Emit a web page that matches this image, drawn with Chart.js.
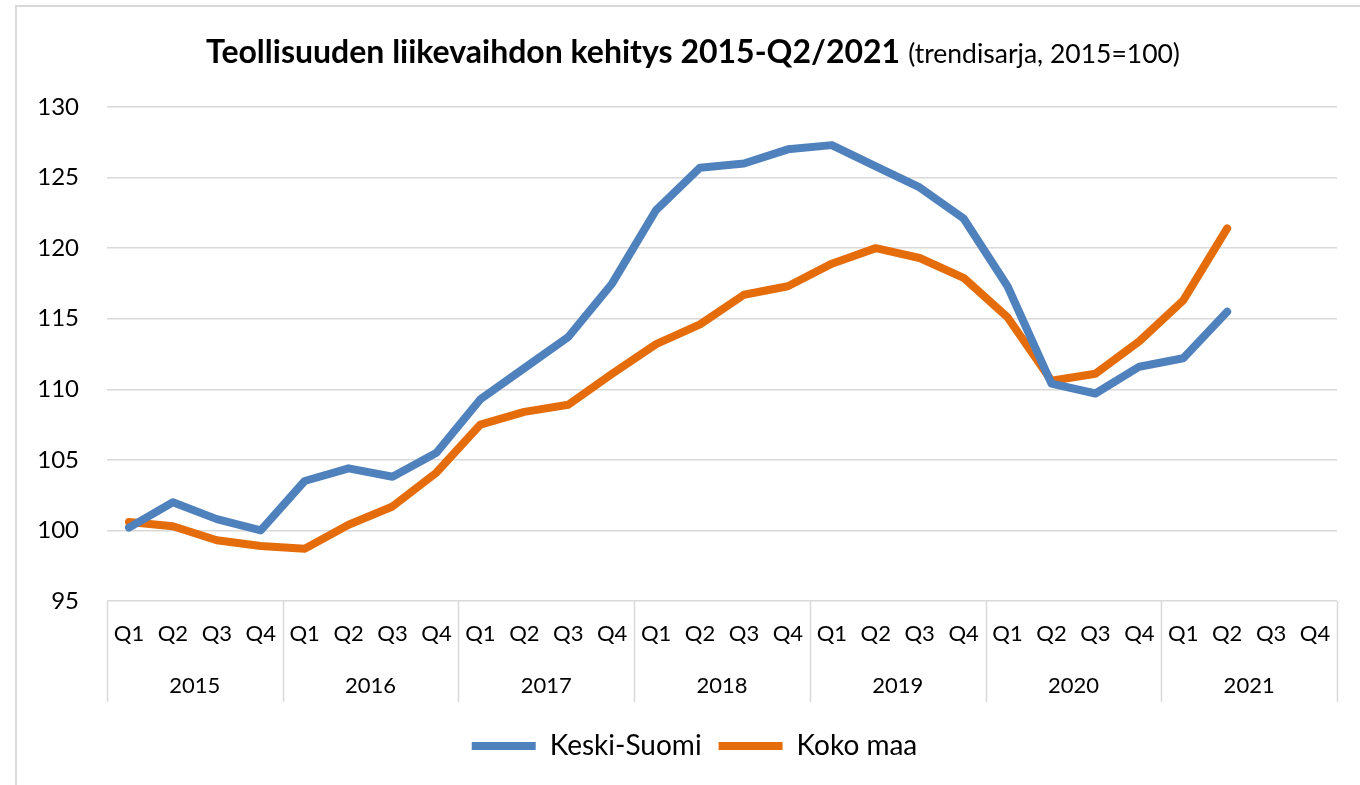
<!DOCTYPE html>
<html><head><meta charset="utf-8">
<script src="https://cdn.jsdelivr.net/npm/chart.js@4.4.1/dist/chart.umd.min.js"></script>
<style>html,body{margin:0;padding:0;background:#fff;overflow:hidden}</style>
</head><body>
<canvas id="c" width="1360" height="785"></canvas>
<script>
const quarters = ['Q1','Q2','Q3','Q4','Q1','Q2','Q3','Q4','Q1','Q2','Q3','Q4','Q1','Q2','Q3','Q4','Q1','Q2','Q3','Q4','Q1','Q2','Q3','Q4','Q1','Q2','Q3','Q4'];
const years = ['2015','2016','2017','2018','2019','2020','2021'];
const keskiSuomi = [100.2,102.0,100.8,100.0, 103.5,104.4,103.8,105.5, 109.3,111.5,113.7,117.5, 122.7,125.7,126.0,127.0, 127.3,125.8,124.3,122.1, 117.3,110.4,109.7,111.6, 112.2,115.5,null,null];
const kokoMaa = [100.6,100.3,99.3,98.9, 98.7,100.4,101.7,104.1, 107.5,108.4,108.9,111.1, 113.2,114.6,116.7,117.3, 118.9,120.0,119.3,117.9, 115.1,110.6,111.1,113.4, 116.3,121.4,null,null];
const seriesNames = ['Keski-Suomi','Koko maa'];
const titleBold = 'Teollisuuden liikevaihdon kehitys 2015-Q2/2021';
const titleNormal = '(trendisarja, 2015=100)';
const yMin = 95, yMax = 130, yStep = 5;

const FONT = 'Lato';
const GRID = '#d9d9d9';

const decor = {
  id: 'decor',
  afterLayout(chart) {
    const l = chart.legend;
    if (l) { l.left += 11; l.right += 11; }
  },
  beforeDraw(chart) {
    const ctx = chart.ctx;
    ctx.save();
    ctx.fillStyle = '#fff';
    ctx.fillRect(0, 0, chart.width, chart.height);
    ctx.strokeStyle = GRID;
    ctx.lineWidth = 2;
    ctx.strokeRect(16, 6, chart.width + 50, chart.height + 50);
    ctx.restore();
  },
  afterDraw(chart) {
    const ctx = chart.ctx;
    const xs = chart.scales.x;
    const area = chart.chartArea;
    const step = xs.getPixelForValue(1) - xs.getPixelForValue(0);
    ctx.save();
    ctx.strokeStyle = GRID;
    ctx.lineWidth = 1.5;
    for (let k = 0; k <= years.length; k++) {
      const px = Math.round(xs.getPixelForValue(k * 4) - step / 2) + 0.5;
      ctx.beginPath();
      ctx.moveTo(px, area.bottom);
      ctx.lineTo(px, area.bottom + 101);
      ctx.stroke();
    }
    ctx.fillStyle = '#000';
    ctx.font = '22px ' + FONT;
    ctx.textAlign = 'center';
    ctx.textBaseline = 'middle';
    years.forEach((y, k) => {
      const cx = (xs.getPixelForValue(k * 4) + xs.getPixelForValue(k * 4 + 3)) / 2;
      ctx.fillText(y, cx, area.bottom + 85);
    });
    ctx.textAlign = 'left';
    ctx.font = 'bold 32px ' + FONT;
    const wb = ctx.measureText(titleBold).width;
    ctx.font = '26.5px ' + FONT;
    const wn = ctx.measureText(titleNormal).width;
    const gap = 8;
    const start = 693 - (wb + gap + wn) / 2;
    ctx.textBaseline = 'alphabetic';
    ctx.font = 'bold 32px ' + FONT;
    ctx.fillText(titleBold, start, 63);
    ctx.font = '26.5px ' + FONT;
    ctx.fillText(titleNormal, start + wb + gap, 63);
    ctx.restore();
  }
};

function build() {
  new Chart(document.getElementById('c'), {
    type: 'line',
    data: {
      labels: quarters,
      datasets: [
        { label: seriesNames[0], data: keskiSuomi, borderColor: '#4f81bd', backgroundColor: '#4f81bd',
          borderWidth: 8, pointRadius: 0, borderCapStyle: 'round', borderJoinStyle: 'round', tension: 0 },
        { label: seriesNames[1], data: kokoMaa, borderColor: '#e46c0a', backgroundColor: '#e46c0a',
          borderWidth: 8, pointRadius: 0, borderCapStyle: 'round', borderJoinStyle: 'round', tension: 0 }
      ]
    },
    options: {
      responsive: false,
      animation: false,
      devicePixelRatio: 1,
      layout: { padding: { left: 30, right: 23, top: 107, bottom: 15 } },
      plugins: {
        title: { display: false },
        tooltip: { enabled: false },
        legend: {
          position: 'bottom',
          labels: {
            usePointStyle: true, pointStyle: 'line', pointStyleWidth: 64,
            color: '#000', padding: 17,
            font: { family: FONT, size: 28 }
          }
        }
      },
      scales: {
        x: {
          offset: true,
          grid: { display: false, drawTicks: false },
          border: { display: false },
          ticks: { color: '#000', font: { family: FONT, size: 22 }, padding: 20, maxRotation: 0, autoSkip: false },
          afterFit(s) { s.height = 114; }
        },
        y: {
          min: yMin, max: yMax,
          grid: { color: GRID, lineWidth: 1.5, drawTicks: false },
          border: { display: false },
          ticks: { stepSize: yStep, color: '#000', font: { family: FONT, size: 24 }, padding: 28 },
          afterFit(s) { s.width = 77; }
        }
      }
    },
    plugins: [decor]
  });
}
if (document.fonts && document.fonts.load) {
  Promise.all([document.fonts.load('22px Lato'), document.fonts.load('bold 32px Lato')]).then(build, build);
} else build();
</script>
</body></html>
